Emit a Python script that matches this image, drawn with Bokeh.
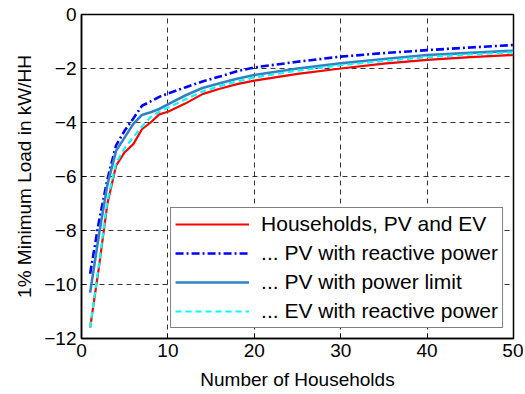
from bokeh.plotting import figure
from bokeh.models import Range1d, FixedTicker, Legend, LegendItem
from bokeh.embed import file_html
from bokeh.resources import INLINE

x = [1, 2, 3, 4, 5, 6, 7, 8, 9, 10, 12, 14, 16, 18, 20, 25, 30, 35, 40, 45, 50]
red = [-11.6, -9.4, -7.0, -5.6, -5.1, -4.8, -4.25, -4.0, -3.7, -3.6, -3.3, -2.95, -2.75, -2.58, -2.45, -2.2, -2.0, -1.82, -1.68, -1.58, -1.5]
blue = [-9.6, -7.7, -6.1, -4.85, -4.3, -3.85, -3.38, -3.22, -3.05, -2.93, -2.7, -2.48, -2.3, -2.1, -1.96, -1.75, -1.56, -1.43, -1.32, -1.22, -1.13]
steel = [-10.3, -8.2, -6.3, -5.05, -4.55, -4.05, -3.72, -3.62, -3.5, -3.33, -3.0, -2.72, -2.55, -2.38, -2.24, -2.0, -1.81, -1.65, -1.5, -1.42, -1.34]
cyan = [-11.6, -9.3, -6.9, -5.5, -4.95, -4.55, -4.15, -3.8, -3.6, -3.45, -3.15, -2.85, -2.65, -2.48, -2.33, -2.08, -1.88, -1.72, -1.58, -1.48, -1.4]
labels = ["Households, PV and EV", "... PV with reactive power", "... PV with power limit", "... EV with reactive power"]
xticks = [0, 10, 20, 30, 40, 50]
yticks = [0, -2, -4, -6, -8, -10, -12]

FONT = "Liberation Sans"

p = figure(width=523, height=392, output_backend="svg", toolbar_location=None,
           x_range=Range1d(0, 50), y_range=Range1d(-12, 0),
           min_border_left=81, min_border_right=10, min_border_top=14, min_border_bottom=52)
p.outline_line_color = "black"
p.outline_line_width = 1.5

for ax, ticks in ((p.xaxis[0], xticks), (p.yaxis[0], yticks)):
    ax.ticker = FixedTicker(ticks=ticks)
    ax.major_label_text_font = FONT
    ax.major_label_text_font_size = "19px"
    ax.major_label_text_color = "black"
    ax.axis_label_text_font = FONT
    ax.axis_label_text_font_size = "19px"
    ax.axis_label_text_font_style = "normal"
    ax.axis_label_text_color = "black"
    ax.major_tick_in = 5
    ax.major_tick_out = 0
    ax.minor_tick_line_color = None
    ax.axis_line_color = "black"
    ax.axis_line_width = 1.5
    ax.major_tick_line_color = "black"

p.xaxis.axis_label = "Number of Households"
p.yaxis.axis_label = "1% Minimum Load in kW/HH"
p.xaxis.major_label_standoff = 5
p.yaxis.major_label_standoff = 5
p.xaxis.axis_label_standoff = 9
p.yaxis.axis_label_standoff = 6

for g in (p.xgrid, p.ygrid):
    g.grid_line_color = "black"
    g.grid_line_dash = "5 4"
    g.grid_line_width = 1
    g.grid_line_alpha = 0.8
p.xgrid.ticker = FixedTicker(ticks=xticks)
p.ygrid.ticker = FixedTicker(ticks=yticks)

r_red = p.line(x, red, line_color="#ff0000", line_width=2.2)
r_blue = p.line(x, blue, line_color="#0000ff", line_width=2.6, line_dash="8 3 2 3")
r_steel = p.line(x, steel, line_color="#3282c2", line_width=2.6)
r_cyan = p.line(x, cyan, line_color="#00ffff", line_width=2.2, line_dash="6 4")

legend = Legend(items=[LegendItem(label=labels[0], renderers=[r_red]),
                       LegendItem(label=labels[1], renderers=[r_blue]),
                       LegendItem(label=labels[2], renderers=[r_steel]),
                       LegendItem(label=labels[3], renderers=[r_cyan])],
                location="bottom_right")
legend.label_text_font = FONT
legend.label_text_font_size = "21px"
legend.label_text_color = "black"
legend.glyph_width = 74
legend.glyph_height = 20
legend.label_height = 20
legend.spacing = 5
legend.padding = 4
legend.margin = 10
legend.label_standoff = 12
legend.border_line_color = "black"
legend.border_line_width = 1.5
legend.background_fill_color = "white"
legend.background_fill_alpha = 1
p.add_layout(legend)

open("out.html", "w").write(file_html(p, INLINE))
